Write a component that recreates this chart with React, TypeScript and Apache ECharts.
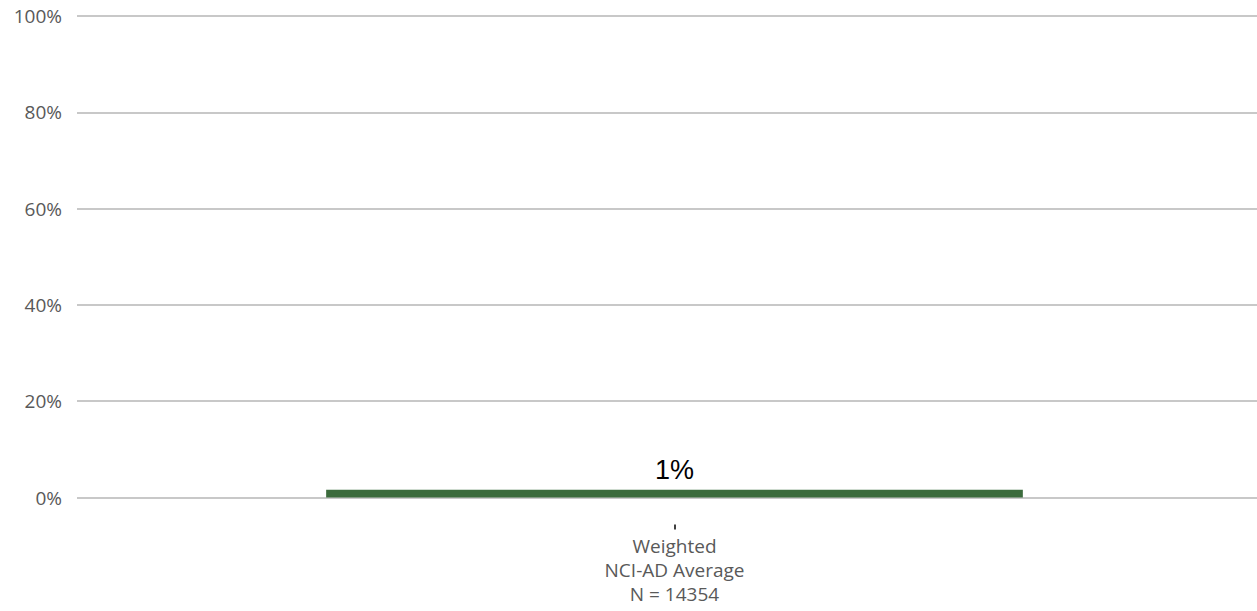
import React, { useEffect, useRef } from "react";
import * as echarts from "echarts";

const categories: string[] = ["Weighted\nNCI-AD Average\nN = 14354"];
const values: number[] = [1.6];
const valueLabels: string[] = ["1%"];
const yTicks: number[] = [0, 20, 40, 60, 80, 100];

export default function App() {
  const ref = useRef<HTMLDivElement>(null);
  useEffect(() => {
    if (!ref.current) return;
    const chart = echarts.init(ref.current, null, { renderer: "svg" });
    chart.setOption({
      animation: false,
      grid: {
        left: 77,
        right: -15,
        top: 16,
        bottom: 113.5,
        containLabel: false,
        outerBoundsMode: "none",
      },
      xAxis: {
        type: "category",
        data: categories,
        axisLine: { show: false },
        axisTick: {
          show: true,
          alignWithLabel: true,
          length: 32,
          lineStyle: { color: "#404040", width: 2, type: [0, 27, 5, 200] },
        },
        axisLabel: {
          margin: 36,
          color: "#595959",
          fontSize: 19,
          lineHeight: 24,
          fontFamily: "Open Sans",
        },
      },
      yAxis: {
        type: "value",
        min: yTicks[0],
        max: yTicks[yTicks.length - 1],
        interval: 20,
        axisLine: { show: false },
        axisTick: { show: false },
        splitLine: { lineStyle: { color: "#c8c8c8", width: 2 } },
        axisLabel: {
          formatter: (v: number) => `${v}%`,
          color: "#595959",
          fontSize: 19,
          margin: 15,
          fontFamily: "Open Sans",
        },
      },
      series: [
        {
          type: "bar",
          data: values,
          barWidth: "58.3%",
          itemStyle: { color: "#3b6b3c" },
          label: {
            show: true,
            position: "top",
            distance: 6,
            formatter: (p: any) => valueLabels[p.dataIndex],
            color: "#000000",
            fontSize: 27,
            fontFamily: "Liberation Sans",
          },
        },
      ],
    });
    return () => chart.dispose();
  }, []);
  return (
    <div
      ref={ref}
      style={{ position: "fixed", left: 0, top: 0, width: 1257, height: 611, background: "#ffffff" }}
    />
  );
}
